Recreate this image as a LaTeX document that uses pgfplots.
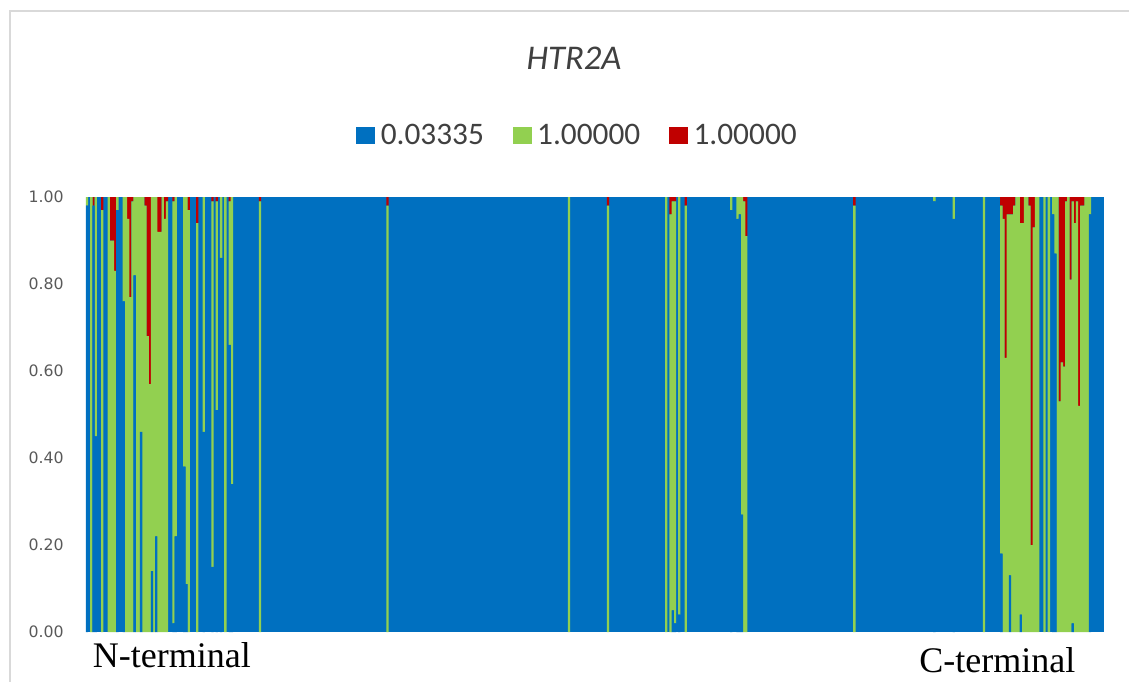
\documentclass[border=0pt]{standalone}
\usepackage{pgfplots}
\pgfplotsset{compat=1.18}
\usepackage{pgfplotstable}
\usepackage{fontspec}
\setmainfont{Carlito}
\newfontfamily\dejavu{DejaVu Sans}
\newfontfamily\timesf{Liberation Serif}
\definecolor{cblue}{HTML}{0070C0}
\definecolor{cgreen}{HTML}{92D050}
\definecolor{cred}{HTML}{C00000}
\definecolor{ctext}{HTML}{404040}
\definecolor{ctick}{HTML}{595959}
\definecolor{cframe}{HTML}{D9D9D9}

% residues that are not pure cluster 1 (all others: b=1)
\pgfplotstableread{
x b g r
1 0.98 0.02 0
3 0 1 0
4 0.98 0 0.02
5 0.45 0.55 0
8 0 0.97 0.03
11 0 1 0
12 0 0.90 0.10
13 0 0.90 0.10
14 0 0.83 0.17
15 0.97 0.03 0
18 0.76 0.24 0
19 0 1 0
20 0 0.95 0.05
21 0 0.77 0.23
22 0 0.99 0.01
23 0.82 0.18 0
24 0 1 0
25 0 1 0
26 0.46 0.54 0
27 0 1 0
28 0 0.98 0.02
29 0 0.68 0.32
30 0 0.57 0.43
31 0.14 0.86 0
32 0 1 0
33 0.22 0.78 0
34 0 0.92 0.08
35 0 0.92 0.08
36 0 1 0
37 0 0.95 0.05
38 0 0.99 0.01
41 0.02 0.97 0.01
42 0.22 0.78 0
46 0.38 0.62 0
47 0.11 0.89 0
48 0 0.97 0.03
52 0 0.94 0.06
55 0.46 0.54 0
59 0.15 0.84 0.01
61 0.51 0.48 0.01
63 0.86 0.14 0
65 0 1 0
67 0.66 0.33 0.01
68 0.34 0.66 0
81 0 0.99 0.01
140 0 0.98 0.02
224 0 1 0
242 0 0.98 0.02
269 0 1 0
271 0 0.96 0.04
272 0.05 0.94 0.01
273 0.02 0.97 0.01
275 0.04 0.96 0
278 0 0.98 0.02
299 0.97 0.03 0
302 0.95 0.05 0
303 0.96 0.04 0
304 0.27 0.73 0
305 0 0.99 0.01
306 0 0.91 0.09
356 0 0.98 0.02
393 0.99 0.01 0
402 0.95 0.05 0
416 0 1 0
424 0.18 0.80 0.02
425 0 0.95 0.05
426 0 0.63 0.37
427 0 0.96 0.04
428 0.13 0.83 0.04
429 0 0.96 0.04
430 0 0.98 0.02
431 0 1 0
432 0 1 0
433 0.04 0.90 0.06
434 0 0.94 0.06
435 0 1 0
436 0 1 0
437 0 0.98 0.02
438 0 0.20 0.80
439 0 0.93 0.07
440 0 1 0
441 0 1 0
444 0 1 0
446 0 1 0
448 0.96 0.04 0
449 0.87 0.13 0
450 0 1 0
451 0 0.53 0.47
452 0 0.62 0.38
453 0 0.61 0.39
454 0 0.99 0.01
455 0 1 0
456 0 0.81 0.19
457 0.02 0.97 0.01
458 0 0.94 0.06
459 0 0.99 0.01
460 0 0.52 0.48
461 0 0.98 0.02
462 0 0.98 0.02
463 0 1 0
464 0 1 0
465 0.96 0.04 0
}\mixed

\pgfplotsset{
  frameaxis/.style={
    at={(64.5pt,-474pt)}, anchor=south west,
    width=763.5pt, height=326.25pt, scale only axis,
    xmin=0.5, xmax=471.5, ymin=0, ymax=1,
    axis line style={draw=none}, tick style={draw=none},
    xtick=\empty,
  }
}

\begin{document}
\begin{tikzpicture}
\path[use as bounding box] (0pt,0pt) rectangle (846.75pt,-511.5pt);
\draw[cframe, line width=1.2pt] (7.5pt,-511.5pt) -- (7.5pt,-8.25pt) -- (846.75pt,-8.25pt);
\node[anchor=base, inner sep=0pt, text=ctext, font=\itshape\fontsize{26}{30}\selectfont] at (430.5pt,-51.75pt) {HTR2A};
% residues of pure cluster 1 (blue, 1.00) fill the whole range
\begin{axis}[frameaxis, ytick=\empty]
\addplot[fill=cblue, draw=none] coordinates {(0.5,1) (471.5,1)} \closedcycle;
\end{axis}
\begin{axis}[frameaxis,
  ybar stacked, bar width=1.08,
  ytick={0,0.2,0.4,0.6,0.8,1},
  yticklabel style={font=\dejavu\fontsize{11.8}{14}\selectfont, text=ctick, anchor=east, inner sep=0pt, xshift=-16.5pt,
    /pgf/number format/fixed, /pgf/number format/fixed zerofill, /pgf/number format/precision=2,
    /pgf/number format/assume math mode=true},
  legend columns=3,
  legend style={at={(0.2652,1.1425)}, anchor=west, draw=none, fill=none, inner sep=0pt,
    font=\fontsize{23.5}{28}\selectfont, text=ctext, nodes={inner sep=0pt},
    /tikz/every odd column/.append style={column sep=4.5pt},
    /tikz/every even column/.append style={column sep=21.5pt}},
]
\addplot[fill=cblue, draw=none, forget plot] table[x=x, y=b] {\mixed};
\addplot[fill=cgreen, draw=none, forget plot] table[x=x, y=g] {\mixed};
\addplot[fill=cred, draw=none, forget plot] table[x=x, y=r] {\mixed};
\addlegendimage{legend image code/.code={\fill[cblue] (0pt,-6pt) rectangle (13.5pt,6pt);}}
\addlegendimage{legend image code/.code={\fill[cgreen] (0pt,-6pt) rectangle (13.5pt,6pt);}}
\addlegendimage{legend image code/.code={\fill[cred] (0pt,-6pt) rectangle (13.5pt,6pt);}}
\legend{0.03335,1.00000,1.00000}
\end{axis}
\node[anchor=base west, inner sep=0pt, font=\timesf\fontsize{27}{32}\selectfont] at (69.5pt,-500.75pt) {N-terminal};
\node[anchor=base west, inner sep=0pt, font=\timesf\fontsize{27}{32}\selectfont] at (689.25pt,-504.5pt) {C-terminal};
\end{tikzpicture}
\end{document}
